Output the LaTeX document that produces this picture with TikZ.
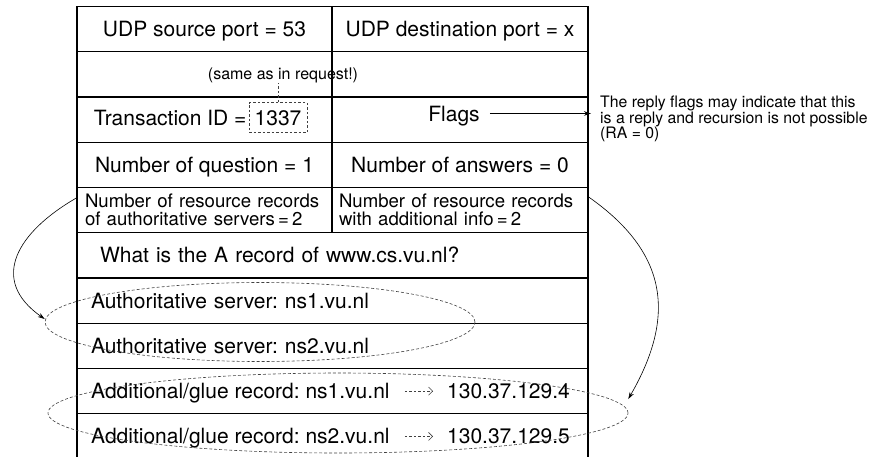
\documentclass[tikz,border=0pt]{standalone}
\usepackage{fontspec}
\setmainfont{TeX Gyre Heros}
\usetikzlibrary{shapes.geometric,arrows.meta,positioning}
\newcommand{\cellfont}{\fontsize{21}{24}\selectfont}
\newcommand{\countfont}{\fontsize{18.6}{18}\selectfont}
\newcommand{\notefont}{\fontsize{15.8}{15.6}\selectfont}
\frenchspacing

\begin{document}
\begin{tikzpicture}[x=1pt, y=1pt,
    box/.style={draw, line width=1.1pt, minimum height=45.25pt, inner sep=0pt},
    cell/.style={box, font=\cellfont, text height=15pt, text depth=0pt},
    txt/.style={inner sep=0pt, font=\cellfont, text height=15pt, text depth=0pt},
    hint/.style={inner sep=0pt, font=\fontsize{16}{18}\selectfont},
    note/.style={inner sep=0pt, align=left, font=\notefont},
    ring/.style={ellipse, draw=black!75, line width=0.6pt, dash pattern=on 3pt off 2pt, inner sep=0pt},
    dots/.style={draw=black!75, line width=0.6pt, dash pattern=on 2.5pt off 2pt},
    pointer/.style={line width=0.6pt, -{Stealth[length=7pt, width=4.5pt]}}
  ]
    \useasboundingbox (0,0) rectangle (872,-456);

    % UDP header
    \node[cell, minimum width=255pt] (srcport) at (204.5,-29.1) {UDP source port = 53};
    \node[cell, minimum width=256pt] (dstport) at (460,-29.1) {UDP destination port = x};

    % DNS header
    \node[cell, minimum width=255pt] (blankl) at (204.5,-74.4) {};
    \node[cell, minimum width=256pt] (blankr) at (460,-74.4) {};
    \node[cell, minimum width=255pt] (idcell) at (204.5,-119.6) {};
    \node[cell, minimum width=256pt] (flagcell) at (460,-119.6) {};
    \node[cell, minimum width=255pt] (nquest) at (204.5,-164.9) {Number of question = 1};
    \node[cell, minimum width=256pt] (nans) at (460,-164.9) {Number of answers = 0};
    \node[box, minimum width=255pt, text width=239pt, inner xsep=8pt, align=left, font=\countfont] (nsauth) at (204.5,-210.1) {Number of resource records\\of authoritative servers\,=\,2};
    \node[box, minimum width=256pt, text width=242pt, inner xsep=7pt, align=left, font=\countfont] (nsadd) at (460,-210.1) {Number of resource records\\with additional info\,=\,2};

    % question and resource records
    \node[cell, minimum width=511pt, text width=465pt, inner xsep=23pt, align=left] (quest) at (332.5,-255.4) {What is the A record of www.cs.vu.nl?};
    \node[cell, minimum width=511pt, text width=483pt, inner xsep=14pt, align=left] (auth1) at (332.5,-300.6) {Authoritative server: ns1.vu.nl};
    \node[cell, minimum width=511pt, text width=483pt, inner xsep=14pt, align=left] (auth2) at (332.5,-345.9) {Authoritative server: ns2.vu.nl};
    \node[cell, minimum width=511pt] (gluecell1) at (332.5,-391.1) {};
    \node[cell, minimum width=511pt] (gluecell2) at (332.5,-436.4) {};

    % glue records
    \node[txt, anchor=west] (glue1) at (91,-391.1) {Additional/glue record: ns1.vu.nl};
    \node[txt, anchor=west] (ip1) at (447,-391.1) {130.37.129.4};
    \node[txt, anchor=west] (glue2) at (91,-436.4) {Additional/glue record: ns2.vu.nl};
    \node[txt, anchor=west] (ip2) at (447,-436.4) {130.37.129.5};
    \foreach \n in {1,2}
      \draw[dots, shorten <=15pt, shorten >=14pt, -{Straight Barb[length=4pt, width=8pt]}] (glue\n) -- (ip\n);

    % transaction id
    \node[txt, draw, dots, minimum width=58pt, minimum height=30pt] (idval) at (278,-117.5) {1337};
    \node[txt, left=2pt of idval] (idlabel) {Transaction ID =};
    \node[hint] (same) at (283,-75) {(same as in request!)};
    \draw[dots] (idval.north) -- (idval.north |- same.south);

    % flags
    \node[txt] (flags) at (454,-113.5) {Flags};
    \node[note, anchor=north west] (reply) at (600,-96) {The reply flags may indicate that this\\is a reply and recursion is not possible\\(RA = 0)};
    \draw[pointer, shorten <=10pt, shorten >=9pt] (flags.east) -- (flags.east -| reply.west);

    % record groups
    \node[ring, minimum width=430pt, minimum height=79pt] (authring) at (260,-322) {};
    \node[ring, minimum width=580pt, minimum height=80pt] (gluering) at (338,-413) {};
    \draw[pointer] ([yshift=-11pt]nsauth.north west) to[out=210, in=145, looseness=1.4] ([yshift=3pt]authring.west);
    \draw[pointer] ([yshift=-10pt]nsadd.north east) to[out=-35, in=60, looseness=1.2] ([yshift=14pt]gluering.east);
\end{tikzpicture}
\end{document}
